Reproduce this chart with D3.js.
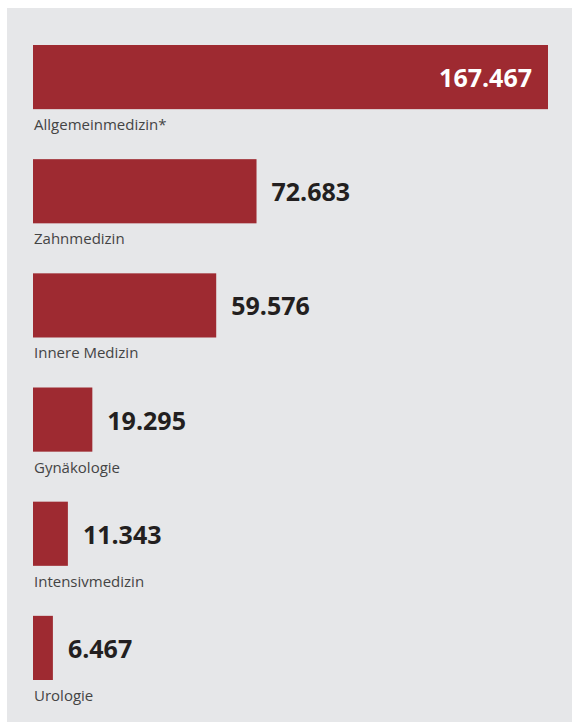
<!DOCTYPE html>
<html>
<head>
<meta charset="utf-8">
<script src="https://cdn.jsdelivr.net/npm/d3@7"></script>
<style>
  html, body { margin: 0; padding: 0; background: #fff; }
</style>
</head>
<body>
<div id="chart"></div>
<script>
// categories and values
let categories = ["Allgemeinmedizin*", "Zahnmedizin", "Innere Medizin", "Gynäkologie", "Intensivmedizin", "Urologie"];
let values = [167467, 72683, 59576, 19295, 11343, 6467];
let valueLabels = ["167.467", "72.683", "59.576", "19.295", "11.343", "6.467"];

let rows = categories.map(function(c, i) {
  return {name: c, value: values[i], label: valueLabels[i]};
});

let width = 572, height = 722;

let svg = d3.select("#chart").append("svg")
        .attr("width", width)
        .attr("height", height);

// grey panel behind the bars
svg.append("rect")
    .attr("x", 7)
    .attr("y", 8)
    .attr("width", width - 7)
    .attr("height", height - 8)
    .attr("fill", "#e6e7e9");

let x = d3.scaleLinear()
        .domain([0, d3.max(values)])
        .range([33, 548]);

let y = d3.scaleBand()
        .domain(categories)
        .range([45, 680])
        .paddingInner(0.438)
        .paddingOuter(0);

let row = svg.selectAll("g.row")
    .data(rows)
    .enter()
    .append("g")
      .attr("class", "row");

row.append("rect")
    .attr("x", x(0))
    .attr("y", function(d) { return y(d.name); })
    .attr("width", function(d) { return x(d.value) - x(0); })
    .attr("height", y.bandwidth())
    .attr("fill", "#9e2a31");

row.append("text")
    .attr("x", x(0) + 1)
    .attr("y", function(d) { return y(d.name) + y.bandwidth() + 21; })
    .text(function(d) { return d.name; })
    .style("font-family", "'Open Sans', sans-serif")
    .style("font-size", "15px")
    .style("fill", "#444");

// the longest bar carries its value inside, the others next to the bar end
let maxValue = d3.max(values);

row.append("text")
    .attr("x", function(d) {
      return d.value === maxValue ? x(d.value) - 16 : x(d.value) + 15;
    })
    .attr("y", function(d) { return y(d.name) + y.bandwidth() / 2 + 10; })
    .attr("text-anchor", function(d) { return d.value === maxValue ? "end" : "start"; })
    .text(function(d) { return d.label; })
    .style("font-family", "'Open Sans', sans-serif")
    .style("font-weight", "bold")
    .style("font-size", "25px")
    .style("fill", function(d) { return d.value === maxValue ? "#fff" : "#231f20"; });
</script>
</body>
</html>
